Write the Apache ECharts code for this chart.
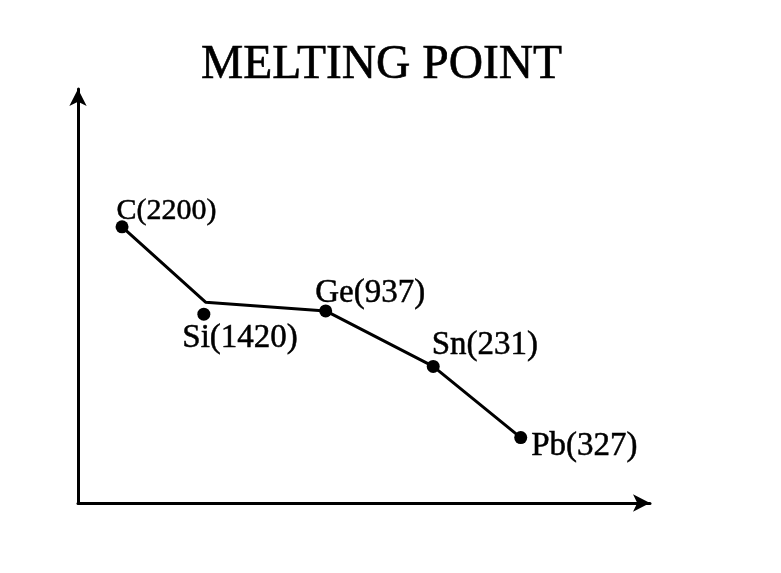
<!DOCTYPE html>
<html>
<head>
<meta charset="utf-8">
<script src="https://cdn.jsdelivr.net/npm/echarts@6/dist/echarts.min.js"></script>
<style>html,body{margin:0;padding:0;background:#fff}#c{width:781px;height:573px}</style>
</head>
<body>
<div id="c"></div>
<script>
// Schematic chart: positions are relative heights (arbitrary units, 0-100)
var elements = ['C', 'Si', 'Ge', 'Sn', 'Pb'];
var meltingPoints = [2200, 1420, 937, 231, 327];
var dotX = [7.7, 22.0, 43.3, 62.1, 77.4];
var dotY = [66.7, 45.6, 46.4, 33.0, 15.8];
var lineX = [7.7, 22.3, 43.3, 62.1, 77.4];
var lineY = [66.7, 48.5, 46.4, 33.0, 15.8];
var labelOffsets = [[1, -24], [-15, 14], [-4, -28], [5, -31], [17, -1]];
var labelSizes = [30, 33, 33, 33, 33];

var serif = "'Liberation Serif', 'DejaVu Serif', serif";
var chart = echarts.init(document.getElementById('c'));
var axisLine = {
  show: true,
  symbol: ['none', 'arrow'],
  symbolSize: [13, 17],
  lineStyle: { color: '#000', width: 3 }
};
chart.setOption({
  backgroundColor: '#fff',
  animation: false,
  title: {
    text: 'MELTING POINT',
    left: 196,
    top: 37,
    textStyle: { fontFamily: serif, fontSize: 47.5, fontWeight: 'normal', color: '#000',
      textBorderColor: '#000', textBorderWidth: 0.6 }
  },
  grid: { left: 78, right: 131, top: 89, bottom: 70 },
  xAxis: {
    type: 'value', min: 0, max: 100,
    axisLine: axisLine, axisTick: { show: false }, axisLabel: { show: false }, splitLine: { show: false }
  },
  yAxis: {
    type: 'value', min: 0, max: 100,
    axisLine: axisLine, axisTick: { show: false }, axisLabel: { show: false }, splitLine: { show: false }
  },
  series: [
    {
      type: 'line',
      data: lineX.map(function (x, i) { return [x, lineY[i]]; }),
      showSymbol: false,
      symbol: 'none',
      lineStyle: { color: '#000', width: 3 },
      z: 2
    },
    {
      type: 'scatter',
      symbolSize: 13,
      itemStyle: { color: '#000', opacity: 1 },
      z: 3,
      data: dotX.map(function (x, i) {
        return {
          value: [x, dotY[i]],
          label: {
            show: true,
            position: labelOffsets[i],
            align: 'left',
            verticalAlign: 'top',
            formatter: elements[i] + '(' + meltingPoints[i] + ')',
            fontFamily: serif,
            fontSize: labelSizes[i],
            lineHeight: labelSizes[i],
            color: '#000',
            textBorderColor: '#000',
            textBorderWidth: 0.5
          }
        };
      })
    }
  ]
});
</script>
</body>
</html>
